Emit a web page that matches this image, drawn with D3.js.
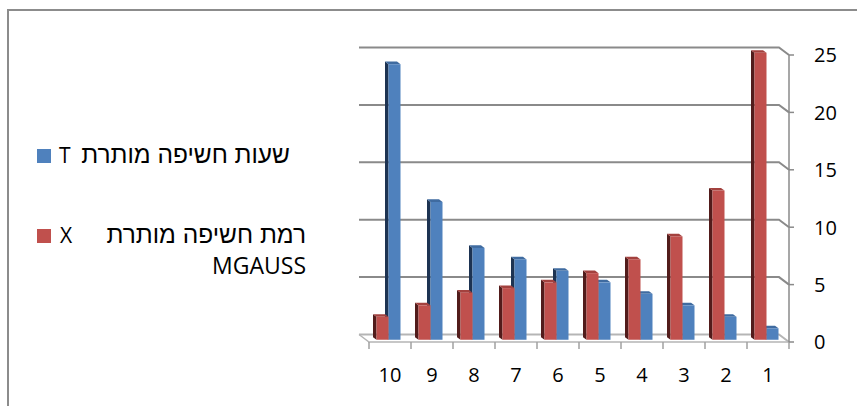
<!DOCTYPE html>
<html>
<head>
<meta charset="utf-8">
<script src="https://cdn.jsdelivr.net/npm/d3@7"></script>
<style>
  body { margin: 0; background: #fff; }
  svg text { font-family: "Open Sans", "Liberation Sans", sans-serif; fill: #000; }
  svg text.he { font-family: "Liberation Sans", "DejaVu Sans", sans-serif; }
</style>
</head>
<body>
<div id="chart-area"></div>
<script>
// categories shown left to right (reversed order, as in the sheet)
const categories = ["10", "9", "8", "7", "6", "5", "4", "3", "2", "1"];
// blue: permitted exposure hours T
const hoursT = [24, 12, 8, 7, 6, 5, 4, 3, 2, 1];
// red: permitted exposure level X (mGauss)
const levelX = [2, 3, 4.1, 4.5, 5, 5.8, 7, 9, 13, 25];
const yTicks = [0, 5, 10, 15, 20, 25];

const width = 857;
const height = 406;

const svg = d3.select("#chart-area")
    .append("svg")
    .attr("width", width)
    .attr("height", height);

// outer frame (only left and top edges are in view)
svg.append("path")
    .attr("d", "M8," + height + " V10 H" + width)
    .attr("fill", "none")
    .attr("stroke", "#8c8c8c")
    .attr("stroke-width", 2);

// front plane scales; depth pushes things up-left
const x = d3.scaleBand().domain(categories).range([369, 789]);
const y = d3.scaleLinear().domain([0, 25]).range([342, 55]);
const DX = 10, DY = 7.5;
const off = d => [-DX * d, -DY * d];

const grid = svg.append("g");

// back wall gridlines with the short slant to the value axis
yTicks.forEach(v => {
    const yb = y(v) - DY;
    grid.append("path")
        .attr("d", `M${x.range()[0] - DX},${yb} H${x.range()[1] - DX} L${x.range()[1]},${y(v)}`)
        .attr("fill", "none")
        .attr("stroke", v === 0 ? "#b5b5b5" : "#8a8a8a")
        .attr("stroke-width", 2);
});

// floor
grid.append("path")
    .attr("d", `M${x.range()[0] - DX},${y(0) - DY} L${x.range()[0]},${y(0)} H${x.range()[1]}`)
    .attr("fill", "none")
    .attr("stroke", "#b5b5b5")
    .attr("stroke-width", 1.5);

// category ticks
const bounds = categories.map(c => x(c)).concat([x.range()[1]]);
grid.selectAll(".ctick")
    .data(bounds)
    .enter()
    .append("line")
    .attr("x1", d => d).attr("x2", d => d)
    .attr("y1", y(0)).attr("y2", y(0) + 7)
    .attr("stroke", "#a0a0a0")
    .attr("stroke-width", 1.5);

// value axis on the right
grid.append("line")
    .attr("x1", x.range()[1]).attr("x2", x.range()[1])
    .attr("y1", y(25)).attr("y2", y(0))
    .attr("stroke", "#8a8a8a")
    .attr("stroke-width", 1.5);
grid.selectAll(".ytick")
    .data(yTicks)
    .enter()
    .append("line")
    .attr("x1", x.range()[1]).attr("x2", x.range()[1] + 5)
    .attr("y1", d => y(d)).attr("y2", d => y(d))
    .attr("stroke", "#8a8a8a")
    .attr("stroke-width", 1.5);

svg.selectAll(".ylab")
    .data(yTicks)
    .enter()
    .append("text")
    .attr("x", 814)
    .attr("y", d => y(d) + 2)
    .attr("dominant-baseline", "middle")
    .style("font-size", "20px")
    .text(d => d);

svg.selectAll(".xlab")
    .data(categories)
    .enter()
    .append("text")
    .attr("x", d => x(d) + x.bandwidth() / 2)
    .attr("y", 377)
    .attr("text-anchor", "middle")
    .attr("dominant-baseline", "middle")
    .style("font-size", "20px")
    .text(d => d);

// 3d bars
const barW = 12;
const d0 = 0.3, d1 = 0.65;
const series = [
    { name: "T", values: hoursT, shift: 0, front: "#4f81bd", top: "#3f6ba0", side: "#1d3352" },
    { name: "X", values: levelX, shift: -barW, front: "#c0504d", top: "#a3413e", side: "#521c1b" }
];

function box(g, xl, v, s) {
    const [fx, fy] = off(d0);
    const [bx, by] = off(d1);
    const l = xl + fx, r = xl + barW + fx;
    const t = y(v) + fy, b = y(0) + fy;
    const lb = xl + bx, rb = xl + barW + bx, tb = y(v) + by, bb = y(0) + by;
    // left side
    g.append("path")
        .attr("d", `M${l},${b} L${lb},${bb} L${lb},${tb} L${l},${t} Z`)
        .attr("fill", s.side);
    // top
    g.append("path")
        .attr("d", `M${l},${t} L${lb},${tb} L${rb},${tb} L${r},${t} Z`)
        .attr("fill", s.top);
    // front
    g.append("rect")
        .attr("x", l).attr("y", t)
        .attr("width", barW).attr("height", b - t)
        .attr("fill", s.front);
}

const bars = svg.append("g");
categories.forEach((c, i) => {
    const cx = x(c) + x.bandwidth() / 2;
    const g = bars.append("g");
    series.forEach(s => {
        box(g, cx + s.shift + 1.5, s.values[i], s);
    });
});

// legend
const legend = svg.append("g");
legend.append("rect").attr("x", 37).attr("y", 149).attr("width", 14).attr("height", 14).attr("fill", "#4f81bd");
legend.append("text").attr("x", 59).attr("y", 157).attr("dominant-baseline", "middle")
    .style("font-size", "21px").text("T");
legend.append("text").attr("class", "he").attr("x", 290).attr("y", 157).attr("dominant-baseline", "middle")
    .attr("text-anchor", "end").style("font-size", "24.5px").text("שעות חשיפה מותרת");

legend.append("rect").attr("x", 37).attr("y", 229).attr("width", 14).attr("height", 14).attr("fill", "#c0504d");
legend.append("text").attr("x", 60).attr("y", 237).attr("dominant-baseline", "middle")
    .style("font-size", "21px").text("X");
legend.append("text").attr("class", "he").attr("x", 306).attr("y", 237).attr("dominant-baseline", "middle")
    .attr("text-anchor", "end").style("font-size", "24.5px").text("רמת חשיפה מותרת");
legend.append("text").attr("x", 306).attr("y", 268).attr("dominant-baseline", "middle")
    .attr("text-anchor", "end").style("font-size", "23px").text("MGAUSS");
</script>
</body>
</html>
